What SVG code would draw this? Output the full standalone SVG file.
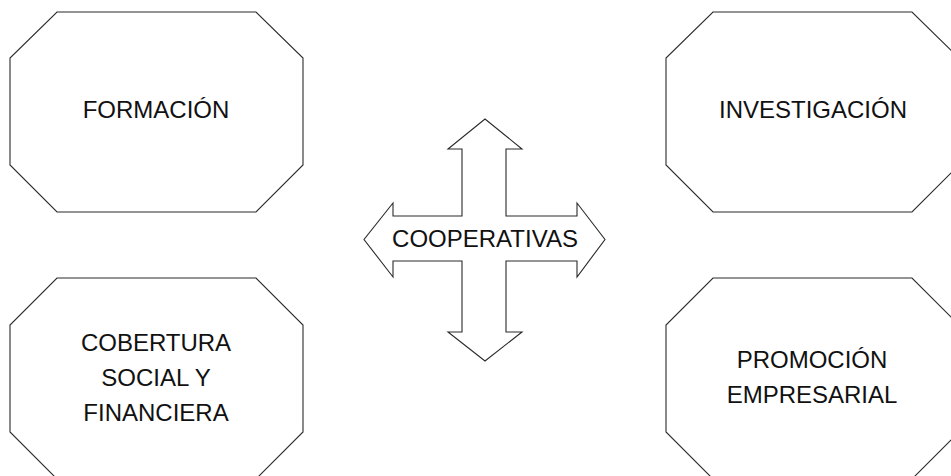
<svg xmlns="http://www.w3.org/2000/svg" width="951" height="476" viewBox="0 0 951 476">
<style>
.shape{fill:#fff;stroke:#2a2a2a;stroke-width:1.1;stroke-linejoin:miter}
.lbl{font-family:"Liberation Sans",Arial,Helvetica,sans-serif;font-size:24px;fill:#111;text-anchor:middle}
</style>
<rect width="951" height="476" fill="#fff"/>
<g id="formacion">
<polygon class="shape" points="57,12 256,12 303,58 303,165 256,212 57,212 10,165 10,58"/>
<text class="lbl" x="156" y="118">FORMACIÓN</text>
</g>
<g id="cobertura">
<polygon class="shape" points="57,278 256,278 303,325 303,432 256,479 57,479 10,432 10,325"/>
<text class="lbl" x="156" y="351">COBERTURA</text>
<text class="lbl" x="156" y="386">SOCIAL Y</text>
<text class="lbl" x="156" y="421">FINANCIERA</text>
</g>
<g id="investigacion">
<polygon class="shape" points="713,12 912,12 959,58 959,165 912,212 713,212 666,165 666,58"/>
<text class="lbl" x="813" y="118">INVESTIGACIÓN</text>
</g>
<g id="promocion">
<polygon class="shape" points="713,278 912,278 959,325 959,432 912,479 713,479 666,432 666,325"/>
<text class="lbl" x="812" y="368">PROMOCIÓN</text>
<text class="lbl" x="812" y="403">EMPRESARIAL</text>
</g>
<g id="cooperativas">
<path class="shape" d="M485,119 L522,149 L506,149 L506,216 L577,216 L577,203 L605,239.5 L577,277 L577,261 L506,261 L506,332 L522,332 L485,361 L448,332 L462,332 L462,261 L393,261 L393,277 L364,239.5 L393,203 L393,216 L462,216 L462,149 L448,149 Z"/>
<text class="lbl" x="485" y="247">COOPERATIVAS</text>
</g>
<g id="connectors"></g>
</svg>
